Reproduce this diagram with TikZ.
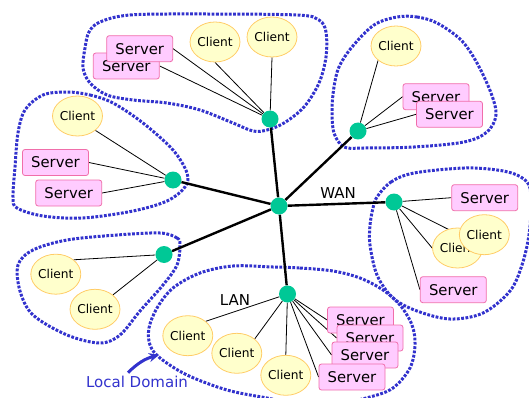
\documentclass[tikz,border=0pt]{standalone}
\usepackage{fontspec}
\setmainfont{DejaVu Sans}
\usetikzlibrary{arrows.meta,backgrounds,shapes.geometric}

\definecolor{srvfill}{RGB}{255,204,255}
\definecolor{srvline}{RGB}{240,110,170}
\definecolor{clifill}{RGB}{255,255,204}
\definecolor{cliline}{RGB}{255,204,102}
\definecolor{hubgreen}{RGB}{0,200,150}
\definecolor{domblue}{RGB}{50,50,205}

\tikzset{
  server/.style={draw=srvline, fill=srvfill, rounded corners=2.5pt,
    minimum width=66pt, minimum height=26pt, inner sep=0pt,
    font=\fontsize{14.8}{16}\selectfont, line width=0.8pt},
  client/.style={ellipse, draw=cliline, fill=clifill,
    minimum width=49pt, minimum height=40pt, inner sep=0pt,
    font=\fontsize{12.2}{14}\selectfont, line width=0.8pt},
  hub/.style={circle, fill=hubgreen, minimum size=17pt, inner sep=0pt},
  leaf/.style={line width=0.8pt},
  trunk/.style={line width=2.4pt},
  domainline/.style={domblue, line width=3pt, dash pattern=on 2.8pt off 1.5pt},
  netlabel/.style={font=\fontsize{15}{17}\selectfont},
  domarrow/.style={domblue, line width=3pt, -{Stealth[length=10pt,width=9pt]}},
}

\begin{document}
\begin{tikzpicture}[x=1pt, y=-1pt]
\useasboundingbox (0,0) rectangle (529,398);
\clip (0,0) rectangle (529,398);

% hubs
\node[hub] (hC)  at (279,206)   {};
\node[hub] (hT)  at (270,119)   {};
\node[hub] (hTR) at (358,131)   {};
\node[hub] (hL)  at (173,180)   {};
\node[hub] (hR)  at (394,202)   {};
\node[hub] (hLL) at (164,254.5) {};
\node[hub] (hB)  at (287.5,294) {};

% top domain
\node[server] (tS2) at (126.3,66)   {Server};
\node[server] (tS1) at (139.7,48.7) {Server};
\node[client] (tC1) at (215,42)     {Client};
\node[client] (tC2) at (272,37)     {Client};

% upper right domain
\node[client] (trC)  at (396,46)     {Client};
\node[server] (trS1) at (436,96.7)   {Server};
\node[server] (trS2) at (449.5,114.3) {Server};

% left domain
\node[client] (lC)  at (77.5,116)  {Client};
\node[server] (lS1) at (55.5,162.5) {Server};
\node[server] (lS2) at (68.7,193)  {Server};

% right domain
\node[server] (rS1) at (484.7,197.7) {Server};
\node[client] (rC1) at (457.5,248)   {Client};
\node[client] (rC2) at (484.3,234.7) {Client};
\node[server] (rS2) at (453.3,289.7) {Server};

% lower left domain
\node[client] (llC1) at (55.8,274.2) {Client};
\node[client] (llC2) at (95,309.3)   {Client};

% bottom domain (LAN)
\node[client] (bC1) at (187.8,335.7) {Client};
\node[client] (bC2) at (236.8,353.3) {Client};
\node[client] (bC3) at (285.8,375.3) {Client};
\node[server] (bS1) at (360.5,320) {Server};
\node[server] (bS2) at (370,338)   {Server};
\node[server] (bS3) at (365,355)   {Server};
\node[server] (bS4) at (352,377)   {Server};

% labels
\node[netlabel] (wan) at (338,193) {WAN};
\node[netlabel] (lan) at (235,300) {LAN};
\node[netlabel, text=domblue] (dom) at (137,382) {Local Domain};
\coordinate (domtip) at (159,355);
\draw[domarrow] ([xshift=-9pt]dom.north) to[bend left=15] (domtip);

\begin{pgfonlayer}{background}
  % domain outlines
  \draw[domainline] plot[smooth cycle, tension=0.55] coordinates {
    (100,22) (130,15) (200,14) (297,15) (319,20) (326,32) (326,57) (319,83)
    (304,107) (284,123) (267,130) (253,131) (233,123) (200,110) (167,103)
    (133,100) (107,95) (90,83) (83,68) (85,48) (89,32)};
  \draw[domainline] plot[smooth cycle, tension=0.55] coordinates {
    (397,17) (417,17) (437,23) (461,40) (477,63) (491,93) (496,115) (487,132)
    (464,142) (414,147) (364,148) (344,147) (334,133) (332,110) (334,87)
    (339,67) (352,47) (374,25)};
  \draw[domainline] plot[smooth cycle, tension=0.55] coordinates {
    (67,92) (90,95) (113,103) (143,123) (173,150) (187,173) (185,187)
    (167,201) (133,211) (83,218) (43,216) (17,208) (13,197) (15,167)
    (18,133) (25,110) (43,95)};
  \draw[domainline] plot[smooth cycle, tension=0.55] coordinates {
    (160,233) (177,238) (180,245) (177,265) (163,285) (140,311) (120,335)
    (100,343) (67,335) (33,315) (20,291) (18,265) (33,250) (67,240) (117,235)};
  \draw[domainline] plot[smooth cycle, tension=0.55] coordinates {
    (273,267) (300,268) (333,271) (360,278) (383,290) (400,305) (412,325)
    (415,345) (410,368) (393,388) (370,397) (340,403) (300,404) (267,398)
    (227,390) (187,375) (160,358) (150,345) (149,328) (157,308) (173,288)
    (200,273) (233,266)};
  \draw[domainline] plot[smooth cycle, tension=0.55] coordinates {
    (377,197) (391,182) (414,173) (464,168) (497,170) (517,175) (529,185)
    (531,205) (529,235) (522,265) (510,291) (483,313) (450,319) (417,311)
    (393,298) (377,275) (370,245) (370,225) (373,208)};

  % backbone
  \foreach \h in {hT,hTR,hL,hR,hLL,hB} \draw[trunk] (hC) -- (\h);

  % access links
  \draw[leaf] (tS1.east) -- (hT);
  \draw[leaf] (tS2.east) -- (hT);
  \draw[leaf] (tC1.south) -- (hT);
  \draw[leaf] (tC2.south) -- (hT);

  \draw[leaf] (trC.south west) -- (hTR);
  \draw[leaf] (trS1.west) -- (hTR);
  \draw[leaf] (trS2.west) -- (hTR);

  \draw[leaf] (lC.south east) -- (hL);
  \draw[leaf] (lS1.east) -- (hL);
  \draw[leaf] (lS2.east) -- (hL);

  \draw[leaf] (rS1.west) -- (hR);
  \draw[leaf] (rC1.west) -- (hR);
  \draw[leaf] (rC2.west) -- (hR);
  \draw[leaf] (rS2.west) -- (hR);

  \draw[leaf] (llC1.north east) -- (hLL);
  \draw[leaf] (llC2.north east) -- (hLL);

  \draw[leaf] (bC1.north east) -- (hB);
  \draw[leaf] (bC2.north east) -- (hB);
  \draw[leaf] (bC3.north) -- (hB);
  \draw[leaf] (bS1.west) -- (hB);
  \draw[leaf] (bS2.west) -- (hB);
  \draw[leaf] (bS3.west) -- (hB);
  \draw[leaf] (bS4.west) -- (hB);
\end{pgfonlayer}
\end{tikzpicture}
\end{document}
